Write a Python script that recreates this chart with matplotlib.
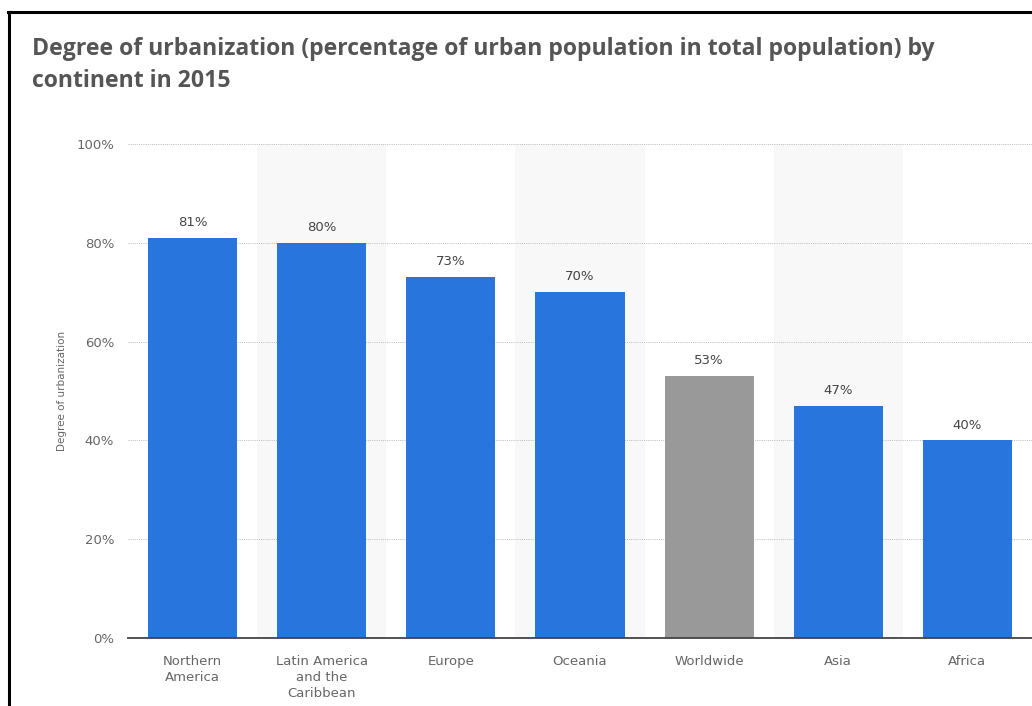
import matplotlib
matplotlib.use("Agg")
import matplotlib.pyplot as plt
from matplotlib.lines import Line2D

# ---------- data ----------
regions = ["Northern\nAmerica", "Latin America\nand the\nCaribbean", "Europe", "Oceania",
           "Worldwide", "Asia", "Africa"]
urban_share = [81, 80, 73, 70, 53, 47, 40]
highlight = "Worldwide"

C_BLUE = "#2876dd"
C_GRAY = "#999999"
C_TEXT = "#666666"

W, H = 1032, 706
fig = plt.figure(figsize=(W / 100, H / 100), dpi=100)

# frame lines (top and left) like the screenshot
fig.add_artist(Line2D([8 / W, 1], [1 - 12 / H, 1 - 12 / H], color="black", lw=2.2))
fig.add_artist(Line2D([9 / W, 9 / W], [0, 1 - 12 / H], color="black", lw=2.2))

fig.text(32 / W, 1 - 49 / H,
         "Degree of urbanization (percentage of urban population in total population) by",
         fontsize=16.6, fontweight="bold", color="#555555", family="Open Sans",
         ha="left", va="center")
fig.text(32 / W, 1 - 81 / H, "continent in 2015",
         fontsize=16.6, fontweight="bold", color="#555555", family="Open Sans",
         ha="left", va="center")

ax = fig.add_axes([128 / W, 1 - 638 / H, (W - 128) / W, (638 - 144) / H])
x = list(range(len(regions)))
colors = [C_GRAY if r == highlight else C_BLUE for r in regions]

# alternating background bands
for i in x:
    if i % 2 == 1:
        ax.axvspan(i - 0.5, i + 0.5, color="#f8f8f8", zorder=0, lw=0)

ax.bar(x, urban_share, width=0.69, color=colors, zorder=3)
for xi, v in zip(x, urban_share):
    ax.text(xi, v + 1.8, f"{v}%", ha="center", va="bottom", fontsize=9.5, color="#444444")

ax.set_xlim(-0.5, len(regions) - 0.5)
ax.set_ylim(0, 100)
ax.set_yticks([0, 20, 40, 60, 80, 100])
ax.set_yticklabels([f"{t}%" for t in [0, 20, 40, 60, 80, 100]])
ax.set_xticks(x)
ax.set_xticklabels(regions, linespacing=1.32)
ax.tick_params(axis="both", length=0, labelsize=9.5, labelcolor=C_TEXT)
ax.tick_params(axis="y", pad=10)
ax.tick_params(axis="x", pad=12)
ax.grid(axis="y", linestyle=(0, (1, 1.2)), color="#bbbbbb", lw=0.7, zorder=1)
for s in ["top", "right", "left"]:
    ax.spines[s].set_visible(False)
ax.spines["bottom"].set_color("#444444")
ax.spines["bottom"].set_linewidth(1.3)
ax.spines["bottom"].set_zorder(4)

fig.text(62 / W, 1 - 391 / H, "Degree of urbanization", rotation=90, fontsize=7.5,
         color=C_TEXT, ha="center", va="center")

fig.savefig("out.png", dpi=100, facecolor="white")
